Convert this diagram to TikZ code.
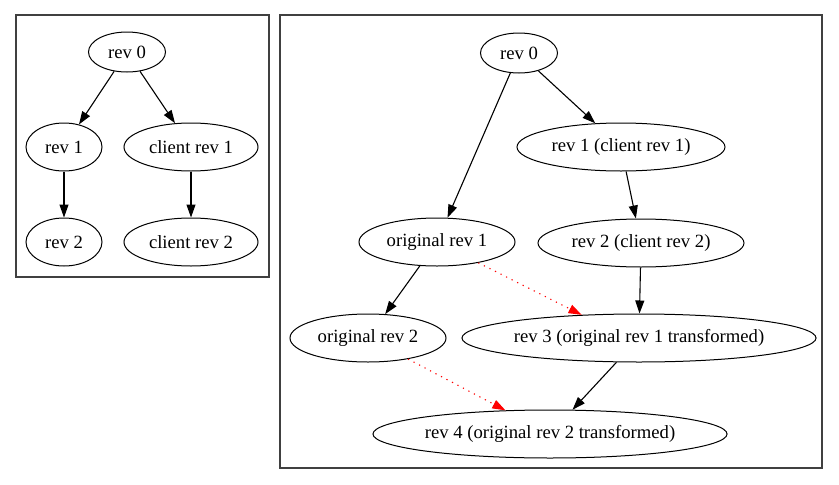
\documentclass[tikz,border=0pt]{standalone}
\usepackage{fontspec}
\setmainfont{Liberation Serif}
\usetikzlibrary{shapes.geometric,arrows.meta}
\begin{document}
\begin{tikzpicture}[x=1pt,y=-1pt,
  nd/.style={draw, ellipse, line width=1pt, inner sep=0pt, minimum height=48pt,
    font=\fontsize{18.67}{20}\selectfont},
  ed/.style={draw, line width=1.1pt, -{Triangle[length=13pt,width=9pt]}},
  rd/.style={ed, red, dash pattern=on 1.2pt off 5pt},
  frame/.style={draw=black!75, line width=1.6pt}]
\path[use as bounding box] (0,0) rectangle (839,485);
% clusters
\draw[frame] (16,15) rectangle (269,277);
\draw[frame] (280,15) rectangle (822,468);
% left graph
\node[nd, minimum width=77pt, minimum height=40pt] (l0) at (127,52) {rev 0};
\node[nd, minimum width=76pt] (l1) at (64,147) {rev 1};
\node[nd, minimum width=134pt] (lc1) at (191,147) {client rev 1};
\node[nd, minimum width=76pt] (l2) at (64,242) {rev 2};
\node[nd, minimum width=134pt] (lc2) at (191,242) {client rev 2};
\draw[ed] (l0) -- (l1);
\draw[ed] (l0) -- (lc1);
\draw[ed] (l1) -- (l2);
\draw[ed] (lc1) -- (lc2);
% right graph
\node[nd, minimum width=77pt, minimum height=40pt] (r0) at (519,53) {rev 0};
\node[nd, minimum width=208pt] (r1) at (621,147) {rev 1 (client rev 1)};
\node[nd, minimum width=206pt] (r2) at (641,243) {rev 2 (client rev 2)};
\node[nd, minimum width=156pt] (o1) at (437,242) {original rev 1};
\node[nd, minimum width=156pt] (o2) at (368,338) {original rev 2};
\node[nd, minimum width=346pt] (r3) at (639,338) {rev 3 (original rev 1 transformed)};
\node[nd, minimum width=346pt] (r4) at (550,434) {rev 4 (original rev 2 transformed)};
\draw[ed] (r0) -- (o1);
\draw[ed] (r0) -- (r1);
\draw[ed] (r1) -- (r2);
\draw[ed] (r2) -- (r3);
\draw[ed] (o1) -- (o2);
\draw[ed] (r3) -- (r4);
\draw[rd] (o1) -- (r3.158);
\draw[rd] (o2) -- (r4.152);
\end{tikzpicture}
\end{document}
